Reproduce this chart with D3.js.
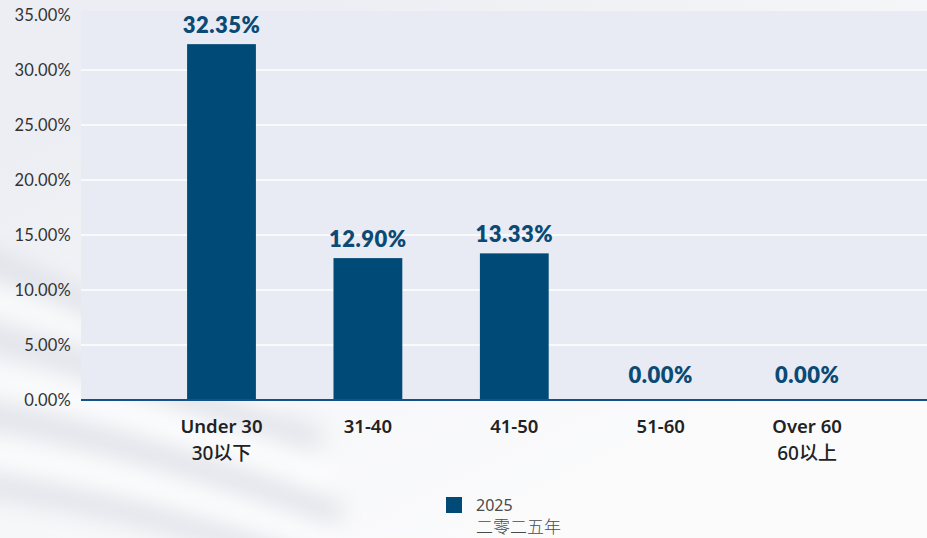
<!DOCTYPE html>
<html>
<head>
<meta charset="utf-8">
<script src="https://cdn.jsdelivr.net/npm/d3@7/dist/d3.min.js"></script>
<style>
  html, body { margin: 0; padding: 0; background: #ffffff; }
  svg { display: block; font-family: Lato, "Noto Sans CJK SC", sans-serif; }
</style>
</head>
<body>
<svg id="chart" width="927" height="538"></svg>
<script>
const categories = ["Under 30|30以下", "31-40", "41-50", "51-60", "Over 60|60以上"];
const values2025 = [32.35, 12.90, 13.33, 0.00, 0.00];
const yTicks = [0, 5, 10, 15, 20, 25, 30, 35];
const seriesName = ["2025", "二零二五年"];

const W = 927, H = 538;
const plot = { left: 81, right: 927, top: 11, bottom: 400 };

const svg = d3.select("#chart");
const defs = svg.append("defs");

// soft wavy background texture
const blur = defs.append("filter").attr("id", "blur").attr("x", "-50%").attr("y", "-50%").attr("width", "200%").attr("height", "200%");
blur.append("feGaussianBlur").attr("stdDeviation", 12);
const bgGrad = defs.append("linearGradient").attr("id", "bgGrad").attr("x1", 0).attr("y1", 0.3).attr("x2", 0.6).attr("y2", 1);
bgGrad.append("stop").attr("offset", "0%").attr("stop-color", "#eceef3");
bgGrad.append("stop").attr("offset", "55%").attr("stop-color", "#f6f7f9");
bgGrad.append("stop").attr("offset", "100%").attr("stop-color", "#fbfbfc");
svg.append("rect").attr("width", W).attr("height", H).attr("fill", "url(#bgGrad)");
const waves = svg.append("g").attr("filter", "url(#blur)");
const wavePaths = [
  "M-40,250 C40,280 120,320 230,380",
  "M-40,330 C70,355 180,395 320,440",
  "M-40,410 C80,430 200,465 340,515",
  "M-40,480 C90,500 210,525 350,580"
];
waves.selectAll("path.w1").data(wavePaths).join("path")
  .attr("d", d => d).attr("fill", "none").attr("stroke", "#dcdfe6").attr("stroke-width", 20);
const wavePaths2 = [
  "M-40,290 C60,315 160,355 280,405",
  "M-40,372 C70,392 190,430 330,480",
  "M-40,448 C80,468 200,497 345,550"
];
waves.selectAll("path.w2").data(wavePaths2).join("path")
  .attr("d", d => d).attr("fill", "none").attr("stroke", "#ffffff").attr("stroke-width", 18);

const x = d3.scaleBand()
  .domain(categories)
  .range([148.3, 880.3])
  .paddingInner(0.53)
  .paddingOuter(0.265);

const y = d3.scaleLinear()
  .domain([0, 35])
  .range([plot.bottom, plot.bottom - 35 * 11]);

// plot background
svg.append("rect")
  .attr("x", plot.left).attr("y", plot.top)
  .attr("width", plot.right - plot.left).attr("height", plot.bottom - plot.top)
  .attr("fill", "#e8ebf3");

// gridlines
svg.append("g").selectAll("line").data(yTicks.filter(t => t > 0 && t < 35)).join("line")
  .attr("x1", plot.left).attr("x2", plot.right)
  .attr("y1", d => y(d)).attr("y2", d => y(d))
  .attr("stroke", "#ffffff").attr("stroke-width", 1.5);

// y axis
const yAxis = svg.append("g")
  .attr("transform", `translate(${plot.left - 10},0)`)
  .call(d3.axisLeft(y).tickValues(yTicks).tickFormat(d => d3.format(".2f")(d) + "%").tickSize(0).tickPadding(0));
yAxis.select(".domain").remove();
yAxis.selectAll("text")
  .attr("fill", "#333333")
  .style("font-size", "16.5px")
  .style("letter-spacing", "0.2px")
  .style("font-family", "Lato, sans-serif")
  .attr("dy", "0.35em");

// bars
svg.append("g").selectAll("rect").data(values2025).join("rect")
  .attr("x", (d, i) => x(categories[i]))
  .attr("width", x.bandwidth())
  .attr("y", d => y(d))
  .attr("height", d => y(0) - y(d))
  .attr("fill", "#004a77");

// baseline
svg.append("line")
  .attr("x1", plot.left).attr("x2", plot.right)
  .attr("y1", y(0)).attr("y2", y(0))
  .attr("stroke", "#145186").attr("stroke-width", 2.2);

// value labels
svg.append("g").selectAll("text").data(values2025).join("text")
  .attr("x", (d, i) => x(categories[i]) + x.bandwidth() / 2)
  .attr("y", d => Math.min(y(d) - 11, y(0) - 17))
  .attr("text-anchor", "middle")
  .attr("fill", "#0b4a74")
  .style("font-weight", 800)
  .style("font-size", "22px")
  .style("letter-spacing", "0.5px")
  .style("font-family", "Lato, sans-serif")
  .text(d => d3.format(".2f")(d) + "%");

// x labels
const xl = svg.append("g").selectAll("text").data(categories).join("text")
  .attr("x", d => x(d) + x.bandwidth() / 2)
  .attr("y", 433)
  .attr("text-anchor", "middle")
  .attr("fill", "#222222")
  .style("font-family", "'Noto Sans', 'Noto Sans CJK SC', sans-serif");
xl.selectAll("tspan").data(d => d.split("|")).join("tspan")
  .attr("x", function () { return d3.select(this.parentNode).attr("x"); })
  .attr("dy", (d, i) => i === 0 ? 0 : 27)
  .style("font-size", (d, i) => i === 0 ? "18.5px" : "19px")
  .style("font-weight", (d, i) => i === 0 ? 600 : 500)
  .text(d => d);

// legend
const lg = svg.append("g");
lg.append("rect").attr("x", 446).attr("y", 497).attr("width", 16).attr("height", 16).attr("fill", "#004a77");
lg.selectAll("text").data(seriesName).join("text")
  .attr("x", 476)
  .attr("y", (d, i) => i === 0 ? 511 : 533)
  .attr("fill", "#4a4a4a")
  .style("font-family", "'Noto Sans', 'Noto Sans CJK SC', sans-serif")
  .style("font-size", (d, i) => i === 0 ? "16px" : "17px")
  .style("font-weight", (d, i) => i === 0 ? 400 : 300)
  .text(d => d);
</script>
</body>
</html>
